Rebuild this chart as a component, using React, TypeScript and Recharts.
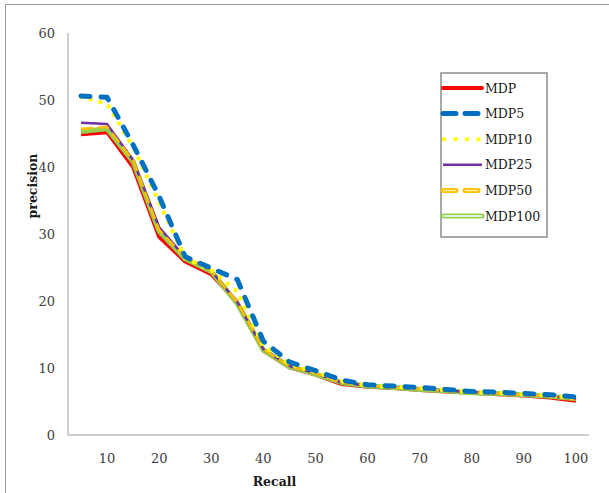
import React from "react";
import { LineChart, Line, XAxis, YAxis, Legend } from "recharts";

const recall = [5, 10, 15, 20, 25, 30, 35, 40, 45, 50, 55, 60, 65, 70, 75, 80, 85, 90, 95, 100];
const mdp = [44.9, 45.2, 40.0, 29.6, 25.9, 24.0, 19.8, 12.6, 10.1, 9.0, 7.6, 7.2, 7.0, 6.7, 6.5, 6.3, 6.1, 5.9, 5.6, 5.1];
const mdp5 = [50.6, 50.4, 43.3, 35.6, 26.6, 24.9, 23.2, 14.0, 10.9, 9.6, 8.2, 7.5, 7.3, 7.1, 6.8, 6.5, 6.4, 6.2, 6.0, 5.7];
const mdp10 = [50.5, 49.4, 43.0, 34.7, 26.4, 24.6, 21.4, 13.3, 10.6, 9.4, 8.0, 7.4, 7.2, 7.0, 6.7, 6.4, 6.3, 6.1, 5.9, 5.5];
const mdp25 = [46.6, 46.4, 41.0, 31.0, 26.5, 24.5, 19.8, 12.8, 10.3, 9.2, 7.8, 7.4, 7.1, 6.9, 6.6, 6.4, 6.2, 6.0, 5.8, 5.4];
const mdp50 = [45.7, 46.0, 41.0, 30.6, 26.5, 24.5, 19.8, 12.8, 10.3, 9.2, 7.8, 7.4, 7.1, 6.9, 6.6, 6.4, 6.2, 6.0, 5.8, 5.4];
const mdp100 = [45.3, 45.7, 40.8, 30.4, 26.3, 24.4, 19.6, 12.7, 10.2, 9.1, 7.8, 7.3, 7.1, 6.8, 6.6, 6.3, 6.2, 6.0, 5.8, 5.4];
const xTicks = [10, 20, 30, 40, 50, 60, 70, 80, 90, 100];
const yTicks = [0, 10, 20, 30, 40, 50, 60];
const seriesNames = ["MDP", "MDP5", "MDP10", "MDP25", "MDP50", "MDP100"];

const data = recall.map((r, i) => ({
  recall: r,
  MDP: mdp[i],
  MDP5: mdp5[i],
  MDP10: mdp10[i],
  MDP25: mdp25[i],
  MDP50: mdp50[i],
  MDP100: mdp100[i],
}));

const FONT = "'DejaVu Serif', serif";

const legendSample = (name: string, y: number) => {
  const x1 = 3, x2 = 42;
  switch (name) {
    case "MDP":
      return <line x1={x1} x2={x2} y1={y} y2={y} stroke="#ff0000" strokeWidth={4} strokeLinecap="round" />;
    case "MDP5":
      return <line x1={x1} x2={x2} y1={y} y2={y} stroke="#0070c0" strokeWidth={5} strokeLinecap="round" strokeDasharray="13 9" />;
    case "MDP10":
      return <line x1={x1 + 1} x2={x2} y1={y} y2={y} stroke="#ffff00" strokeWidth={4.5} strokeLinecap="round" strokeDasharray="0 11.5" />;
    case "MDP25":
      return <line x1={x1} x2={x2} y1={y} y2={y} stroke="#7030a0" strokeWidth={2.5} />;
    case "MDP50":
      return (
        <g>
          <line x1={x1} x2={x2} y1={y} y2={y} stroke="#ffc000" strokeWidth={5} strokeLinecap="round" strokeDasharray="13 9" />
          <line x1={x1} x2={x2} y1={y} y2={y} stroke="#ffe9a0" strokeWidth={1.5} strokeDasharray="13 9" />
        </g>
      );
    default:
      return (
        <g>
          <line x1={x1} x2={x2} y1={y} y2={y} stroke="#92d050" strokeWidth={5} strokeLinecap="round" />
          <line x1={x1} x2={x2} y1={y} y2={y} stroke="#ffffff" strokeWidth={1.5} />
        </g>
      );
  }
};

const renderLegend = () => (
  <svg width={108} height={166} style={{ display: "block" }}>
    <rect x={1} y={1} width={106} height={164} fill="#ffffff" stroke="#8c8c8c" strokeWidth={1.5} />
    {seriesNames.map((n, i) => {
      const y = 16 + i * 25.6;
      return (
        <g key={n}>
          {legendSample(n, y)}
          <text x={45} y={y} dominantBaseline="central" style={{ fontFamily: FONT, fontSize: 12.5 }} fill="#1a1a1a">
            {n}
          </text>
        </g>
      );
    })}
  </svg>
);

const YLabel = (props: any) => {
  const vb = props.viewBox || { x: 8, y: 33, width: 60, height: 402 };
  const cx = vb.x + 24;
  const cy = vb.y + vb.height / 2 - 48;
  return (
    <text x={cx} y={cy} transform={`rotate(-90, ${cx}, ${cy})`} textAnchor="middle" dominantBaseline="central" fontFamily={FONT} fontWeight="bold" fontSize={12.5} fill="#1a1a1a">
      precision
    </text>
  );
};

const XLabel = (props: any) => {
  const vb = props.viewBox || { x: 68, y: 435, width: 521, height: 30 };
  const cx = vb.x + vb.width / 2 - 54;
  const cy = vb.y + 46;
  return (
    <text x={cx} y={cy} textAnchor="middle" dominantBaseline="central" fontFamily={FONT} fontWeight="bold" fontSize={12.5} fill="#1a1a1a">
      Recall
    </text>
  );
};

export default function App() {
  return (
    <div style={{ position: "absolute", left: 0, top: 0, width: 609, height: 493, overflow: "hidden", background: "#ffffff" }}>
      <div style={{ position: "absolute", left: 5, top: 4, width: 700, height: 600, border: "1.5px solid #9a9a9a", boxSizing: "border-box" }} />
      <div style={{ position: "absolute", left: 0, top: 0 }}>
        <LineChart width={609} height={493} data={data} margin={{ top: 33, right: 20, bottom: 28, left: 8 }}>
          <XAxis
            dataKey="recall"
            type="number"
            domain={[2.5, 102.5]}
            ticks={xTicks}
            tickLine={false}
            axisLine={{ stroke: "#bfbfbf", strokeWidth: 1.5 }}
            tick={{ fontSize: 13, fill: "#404040", fontFamily: FONT }}
            tickMargin={13}
            height={30}
            label={{ content: (p: any) => <XLabel {...p} /> }}
          />
          <YAxis
            type="number"
            domain={[0, 60]}
            ticks={yTicks}
            tickLine={false}
            axisLine={{ stroke: "#bfbfbf", strokeWidth: 1.5 }}
            tick={{ fontSize: 13, fill: "#404040", fontFamily: FONT }}
            tickMargin={7}
            width={60}
            label={{ content: (p: any) => <YLabel {...p} /> }}
          />
          <Legend
            layout="vertical"
            align="center"
            verticalAlign="middle"
            content={renderLegend}
            wrapperStyle={{ position: "absolute", left: 440, top: 72, width: 108, height: 166 }}
          />
          <Line dataKey="MDP" stroke="#ff0000" strokeWidth={4} dot={false} isAnimationActive={false} strokeLinejoin="round" />
          <Line dataKey="MDP100" stroke="#92d050" strokeWidth={5} dot={false} isAnimationActive={false} strokeLinejoin="round" />
          <Line dataKey="MDP25" stroke="#7030a0" strokeWidth={2.5} dot={false} isAnimationActive={false} strokeLinejoin="round" />
          <Line dataKey="MDP50" stroke="#ffc000" strokeWidth={2.5} strokeDasharray="12 5" dot={false} isAnimationActive={false} strokeLinejoin="round" />
          <Line dataKey="MDP10" stroke="#ffff00" strokeWidth={4.5} strokeDasharray="0 10" strokeLinecap="round" dot={false} isAnimationActive={false} />
          <Line dataKey="MDP5" stroke="#0070c0" strokeWidth={5} strokeDasharray="9 11" strokeLinecap="round" dot={false} isAnimationActive={false} strokeLinejoin="round" />
        </LineChart>
      </div>
    </div>
  );
}
